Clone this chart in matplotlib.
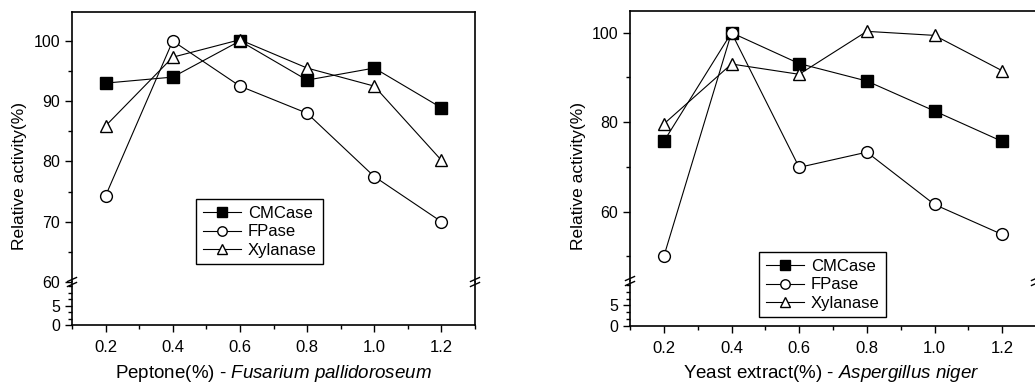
import matplotlib
matplotlib.use("Agg")
import matplotlib.pyplot as plt
from matplotlib.ticker import MultipleLocator, FixedLocator
from matplotlib.lines import Line2D

plt.rcParams['font.family'] = ['Liberation Sans', 'DejaVu Sans']
plt.rcParams['mathtext.fontset'] = 'custom'
plt.rcParams['mathtext.rm'] = 'Liberation Sans'
plt.rcParams['mathtext.it'] = 'Liberation Sans:italic'

# data
conc = [0.2, 0.4, 0.6, 0.8, 1.0, 1.2]
series_names = ['CMCase', 'FPase', 'Xylanase']

pep_cmcase = [93.0, 94.0, 100.0, 93.5, 95.5, 88.9]
pep_fpase = [74.3, 100.0, 92.5, 88.0, 77.5, 70.0]
pep_xylanase = [85.9, 97.3, 100.2, 95.5, 92.5, 80.2]

yeast_cmcase = [75.7, 100.0, 93.1, 89.2, 82.5, 75.7]
yeast_fpase = [50.0, 100.0, 69.9, 73.3, 61.6, 54.9]
yeast_xylanase = [79.6, 93.0, 90.7, 100.3, 99.4, 91.5]

W, H = 1035, 387
fig = plt.figure(figsize=(W / 100, H / 100), dpi=100)

styles = [dict(marker='s', mfc='black', mec='black'),
          dict(marker='o', mfc='white', mec='black'),
          dict(marker='^', mfc='white', mec='black')]


def fx(px):
    return px / W


def fy(py):
    return 1 - py / H


def panel(left, right, top, brk, bottom, ylim_up, ylim_low, major, minor, data, xlabel, xlab_x, ylab_x, leg_pos):
    ax_up = fig.add_axes([fx(left), fy(brk), fx(right - left), fy(top) - fy(brk)])
    ax_lo = fig.add_axes([fx(left), fy(bottom), fx(right - left), fy(brk) - fy(bottom)])
    handles = []
    for vals, name, st in zip(data, series_names, styles):
        h, = ax_up.plot(conc, vals, color='black', lw=0.8, ms=8.5, mew=1.0, label=name, clip_on=False, **st)
        handles.append(h)
    for ax in (ax_up, ax_lo):
        ax.set_xlim(0.1, 1.3)
        for s in ax.spines.values():
            s.set_linewidth(1.2)
        ax.tick_params(which='both', direction='out', right=False, top=False, width=1.0)
        ax.tick_params(axis='y', labelsize=11.5)
        ax.tick_params(axis='x', labelsize=12)
        ax.tick_params(which='major', length=5)
        ax.tick_params(which='minor', length=3)
    ax_up.set_ylim(*ylim_up)
    ax_up.yaxis.set_major_locator(MultipleLocator(major))
    ax_up.yaxis.set_minor_locator(MultipleLocator(minor))
    ax_up.spines['bottom'].set_visible(False)
    ax_up.tick_params(axis='x', which='both', bottom=False, labelbottom=False)
    ax_lo.set_ylim(*ylim_low)
    ax_lo.spines['top'].set_visible(False)
    ax_lo.yaxis.set_major_locator(FixedLocator([0, 5]))
    ax_lo.yaxis.set_minor_locator(MultipleLocator(5 / 3))
    ax_lo.xaxis.set_minor_locator(MultipleLocator(0.1))
    ax_lo.set_xticks(conc)
    ax_lo.set_xticklabels(['%.1f' % c for c in conc])
    ax_lo.tick_params(axis='x', pad=6)

    # break marks on both spines
    for xs in (left, right):
        for dy in (-2.5, 2.5):
            fig.add_artist(Line2D([fx(xs - 4.5), fx(xs + 4.5)], [fy(brk + dy + 2), fy(brk + dy - 2)],
                                  color='black', lw=1.0))

    fig.text(fx(xlab_x), fy(373), xlabel, ha='center', va='center', fontsize=13.5)
    fig.text(fx(ylab_x), fy(176), 'Relative activity(%)', ha='center', va='center',
             rotation=90, fontsize=12.5)
    fig.legend(handles=handles, loc='upper left', bbox_to_anchor=(fx(leg_pos[0]), fy(leg_pos[1])),
               frameon=True, fancybox=False, edgecolor='black', framealpha=1, fontsize=12,
               handlelength=2.3, handletextpad=0.4, borderpad=0.4, labelspacing=0.2,
               markerscale=0.8).get_frame().set_linewidth(1.0)


panel(72, 475, 12, 282, 325, (60, 104.8), (0, 11.1), 10, 5,
      [pep_cmcase, pep_fpase, pep_xylanase],
      r'Peptone(%) - $\it{Fusarium\ pallidoroseum}$', 273, 20, (188, 191))
panel(630, 1036, 11, 281, 325.5, (44.5, 104.85), (0, 11), 20, 10,
      [yeast_cmcase, yeast_fpase, yeast_xylanase],
      r'Yeast extract(%) - $\it{Aspergillus\ niger}$', 831, 578, (751, 244))

fig.savefig('out.png', dpi=100)
